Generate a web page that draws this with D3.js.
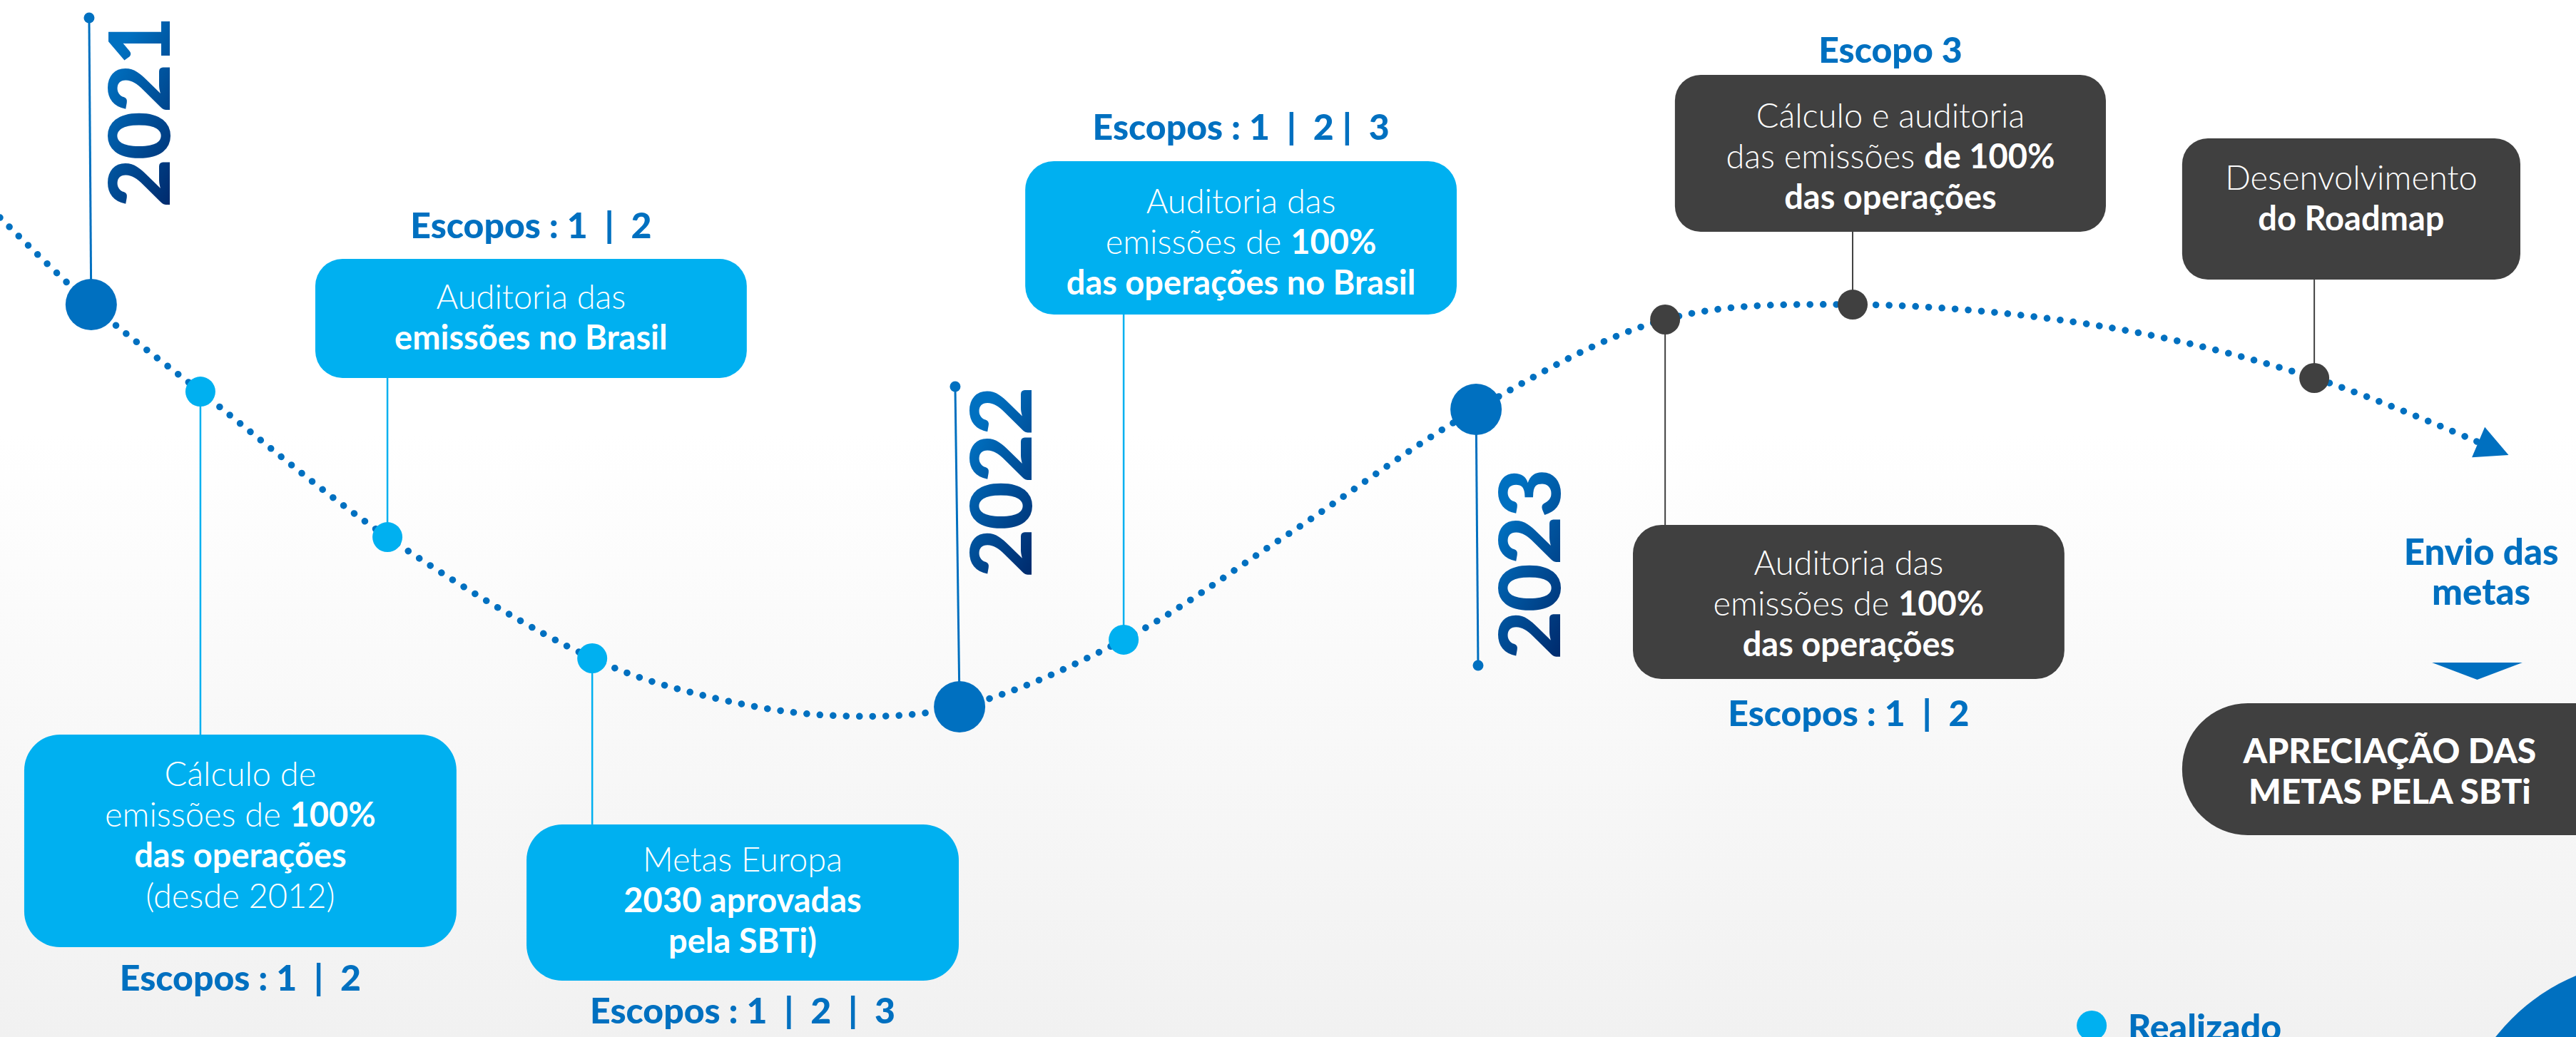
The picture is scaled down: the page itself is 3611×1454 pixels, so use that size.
<!DOCTYPE html>
<html>
<head>
<meta charset="utf-8">
<script src="https://cdn.jsdelivr.net/npm/d3@7"></script>
<style>
  html, body { margin: 0; padding: 0; overflow: hidden; background: #fff; }
  svg { display: block; }
  text { font-family: Lato, "Open Sans", sans-serif; white-space: pre; }
</style>
</head>
<body>
<div id="chart"></div>
<script>
const W = 3611, H = 1454;

// dotted trajectory, x 0-100 left to right, y 0-100 bottom to top
const curveX = [0, 3.54, 7.78, 15.04, 22.99, 27.19, 32.15, 37.25, 43.62, 49.88, 57.30, 64.64, 71.92, 81.69, 89.84, 96.21];
const curveY = [79.02, 70.63, 62.24, 48.21, 36.52, 33.01, 31.02, 31.84, 38.31, 48.28, 60.52, 69.19, 70.63, 68.50, 63.55, 57.36];

// year milestones
const years = ["2021", "2022", "2023"];
const yearX = [3.54, 37.25, 57.30];
const yearY = [70.63, 31.84, 60.52];
const yearStemX = [3.46, 37.08, 57.38];
const yearStemY = [98.28, 62.72, 35.83];

// events on the path
const eventIds = ["A", "B", "C", "D", "E", "F", "G"];
const eventStatus = ["done", "done", "done", "done", "planned", "planned", "planned"];
const eventX = [7.78, 22.99, 15.04, 43.62, 71.92, 89.84, 64.64];
const eventY = [62.24, 36.52, 48.21, 38.31, 70.63, 63.55, 69.19];
const eventText = [
  [[["l", "Cálculo de"]], [["l", "emissões de "], ["b", "100%"]], [["b", "das operações"]], [["l", "(desde 2012)"]]],
  [[["l", "Metas Europa"]], [["b", "2030 aprovadas"]], [["b", "pela SBTi)"]]],
  [[["l", "Auditoria das"]], [["b", "emissões no Brasil"]]],
  [[["l", "Auditoria das"]], [["l", "emissões de "], ["b", "100%"]], [["b", "das operações no Brasil"]]],
  [[["l", "Cálculo e auditoria"]], [["l", "das emissões "], ["b", "de 100%"]], [["b", "das operações"]]],
  [[["l", "Desenvolvimento"]], [["b", "do Roadmap"]]],
  [[["l", "Auditoria das"]], [["l", "emissões de "], ["b", "100%"]], [["b", "das operações"]]]
];
const eventScopes = ["Escopos : 1  |  2", "Escopos : 1  |  2  |  3", "Escopos : 1  |  2",
  "Escopos : 1  |  2 |  3", "Escopo 3", "", "Escopos : 1  |  2"];

const finalStep = ["APRECIAÇÃO DAS", "METAS PELA SBTi"];
const sendText = ["Envio das", "metas"];
const legendLabel = "Realizado";

// layout (same 0-100 units)
const boxLayout = {
  A: {x0: 0.94, x1: 17.72, top: 29.16, bottom: 8.67, scopeY: 4.47, rx: 50, dy: 72},
  B: {x0: 20.44, x1: 37.22, top: 20.50, bottom: 5.43, scopeY: 1.30, rx: 50, dy: 66},
  C: {x0: 12.24, x1: 28.99, top: 75.03, bottom: 63.55, scopeY: 77.03, rx: 38, dy: 70},
  D: {x0: 39.80, x1: 56.55, top: 84.46, bottom: 69.67, scopeY: 86.52, rx: 40, dy: 73},
  E: {x0: 65.02, x1: 81.75, top: 92.78, bottom: 77.65, scopeY: 93.95, rx: 36, dy: 74},
  F: {x0: 84.71, x1: 97.84, top: 86.66, bottom: 73.04, scopeY: null, rx: 36, dy: 72},
  G: {x0: 63.39, x1: 80.14, top: 49.38, bottom: 34.53, scopeY: 29.99, rx: 40, dy: 70}
};
const yearLabelPos = [[6.59, 89.13], [40.04, 53.44], [60.56, 45.53]];
const finalBox = {x0: 84.71, x1: 102.47, top: 32.19, bottom: 19.46, textX: 92.77};
const sendPos = {x: 96.32, y: [45.53, 41.68]};
const downArrow = {x0: 94.41, x1: 97.92, top: 36.11, tip: 34.46};
const legendPos = {x: 81.20, y: 1.10, tx: 82.61, ty: -0.28};
const cornerCircle = {x: 103.02, y: -11.97, r: 7.81};

const BLUE = "#0070c0", LIGHT = "#00b0f0", DARK = "#404040", NAVY = "#002060";

const x = d3.scaleLinear().domain([0, 100]).range([0, W]);
const y = d3.scaleLinear().domain([0, 100]).range([H, 0]);

const svg = d3.select("#chart").append("svg")
  .attr("width", W).attr("height", H);

const defs = svg.append("defs");
const bg = defs.append("linearGradient").attr("id", "bg")
  .attr("x1", 0).attr("y1", 0).attr("x2", 0).attr("y2", 1);
bg.append("stop").attr("offset", "0.42").attr("stop-color", "#ffffff");
bg.append("stop").attr("offset", "1").attr("stop-color", "#f1f1f1");

const yg = defs.append("linearGradient").attr("id", "yearGrad")
  .attr("x1", 0).attr("y1", 1).attr("x2", 1).attr("y2", 0);
yg.append("stop").attr("offset", "0").attr("stop-color", NAVY);
yg.append("stop").attr("offset", "0.75").attr("stop-color", BLUE);

svg.append("rect").attr("width", W).attr("height", H).attr("fill", "url(#bg)");

// corner decoration
svg.append("circle")
  .attr("cx", x(cornerCircle.x)).attr("cy", y(cornerCircle.y))
  .attr("r", x(cornerCircle.r))
  .attr("fill", BLUE);

// dotted path
const pts = curveX.map((d, i) => [x(d), y(curveY[i])]);
const path = svg.append("path")
  .attr("d", d3.line().curve(d3.curveCatmullRom.alpha(0.5))(pts))
  .attr("fill", "none")
  .attr("stroke", BLUE)
  .attr("stroke-width", 9.5)
  .attr("stroke-linecap", "round")
  .attr("stroke-dasharray", "0.1 18.4");

// arrow head at the path end
const node = path.node();
const L = node.getTotalLength();
const pEnd = node.getPointAtLength(L);
const pPrev = node.getPointAtLength(L - 30);
const ang = Math.atan2(pEnd.y - pPrev.y, pEnd.x - pPrev.x) * 180 / Math.PI;
svg.append("path")
  .attr("d", "M0,-23 L46,0 L0,23 Z")
  .attr("transform", `translate(${pEnd.x},${pEnd.y}) rotate(${ang})`)
  .attr("fill", BLUE);

// connectors from events to boxes
eventIds.forEach((id, i) => {
  const b = boxLayout[id];
  const above = b.bottom > eventY[i];
  svg.append("line")
    .attr("x1", x(eventX[i])).attr("x2", x(eventX[i]))
    .attr("y1", y(eventY[i]))
    .attr("y2", y(above ? b.bottom : b.top))
    .attr("stroke", eventStatus[i] === "done" ? LIGHT : DARK)
    .attr("stroke-width", eventStatus[i] === "done" ? 2.5 : 2);
});

// year stems and labels
years.forEach((yr, i) => {
  svg.append("line")
    .attr("x1", x(yearStemX[i])).attr("y1", y(yearStemY[i]))
    .attr("x2", x(yearX[i])).attr("y2", y(yearY[i]))
    .attr("stroke", BLUE).attr("stroke-width", 3);
  svg.append("circle")
    .attr("cx", x(yearStemX[i])).attr("cy", y(yearStemY[i]))
    .attr("r", 7.5).attr("fill", BLUE);
  svg.append("circle")
    .attr("cx", x(yearX[i])).attr("cy", y(yearY[i]))
    .attr("r", 36).attr("fill", BLUE);
  const lp = yearLabelPos[i];
  svg.append("text")
    .attr("transform", `translate(${x(lp[0])},${y(lp[1])}) rotate(-90)`)
    .attr("text-anchor", "middle")
    .attr("font-size", 118)
    .attr("font-weight", 900)
    .attr("letter-spacing", -2)
    .attr("fill", "url(#yearGrad)")
    .text(yr);
});

// boxes with text
eventIds.forEach((id, i) => {
  const b = boxLayout[id];
  const fill = eventStatus[i] === "done" ? LIGHT : DARK;
  svg.append("rect")
    .attr("x", x(b.x0)).attr("y", y(b.top))
    .attr("width", x(b.x1) - x(b.x0))
    .attr("height", y(b.bottom) - y(b.top))
    .attr("rx", b.rx).attr("ry", b.rx)
    .attr("fill", fill);

  const cx = (x(b.x0) + x(b.x1)) / 2;
  eventText[i].forEach((line, j) => {
    const t = svg.append("text")
      .attr("x", cx)
      .attr("y", y(b.top) + b.dy + j * 57)
      .attr("text-anchor", "middle")
      .attr("font-size", 47)
      .attr("fill", "#ffffff");
    line.forEach(seg => {
      t.append("tspan")
        .attr("font-weight", seg[0] === "b" ? 700 : 300)
        .text(seg[1]);
    });
  });

  if (eventScopes[i]) {
    svg.append("text")
      .attr("x", cx)
      .attr("y", y(b.scopeY))
      .attr("text-anchor", "middle")
      .attr("font-size", 50)
      .attr("font-weight", 900)
      .attr("fill", BLUE)
      .text(eventScopes[i]);
  }
});

// event markers
eventIds.forEach((id, i) => {
  svg.append("circle")
    .attr("cx", x(eventX[i])).attr("cy", y(eventY[i]))
    .attr("r", 21)
    .attr("fill", eventStatus[i] === "done" ? LIGHT : DARK);
});

// send step
sendText.forEach((s, j) => {
  svg.append("text")
    .attr("x", x(sendPos.x)).attr("y", y(sendPos.y[j]))
    .attr("text-anchor", "middle")
    .attr("font-size", 51)
    .attr("font-weight", 900)
    .attr("fill", BLUE)
    .text(s);
});
svg.append("path")
  .attr("d", d3.line()([
    [x(downArrow.x0), y(downArrow.top)],
    [x(downArrow.x1), y(downArrow.top)],
    [(x(downArrow.x0) + x(downArrow.x1)) / 2, y(downArrow.tip)]
  ]) + "Z")
  .attr("fill", BLUE);

// final step box
svg.append("rect")
  .attr("x", x(finalBox.x0)).attr("y", y(finalBox.top))
  .attr("width", x(finalBox.x1) - x(finalBox.x0))
  .attr("height", y(finalBox.bottom) - y(finalBox.top))
  .attr("rx", 92).attr("ry", 92)
  .attr("fill", DARK);
finalStep.forEach((s, j) => {
  svg.append("text")
    .attr("x", x(finalBox.textX))
    .attr("y", y(finalBox.top) + 84 + j * 57)
    .attr("text-anchor", "middle")
    .attr("font-size", 48)
    .attr("font-weight", 900)
    .attr("fill", "#ffffff")
    .text(s);
});

// legend
svg.append("circle")
  .attr("cx", x(legendPos.x)).attr("cy", y(legendPos.y))
  .attr("r", 21).attr("fill", LIGHT);
svg.append("text")
  .attr("x", x(legendPos.tx)).attr("y", y(legendPos.ty))
  .attr("font-size", 50)
  .attr("font-weight", 900)
  .attr("fill", BLUE)
  .text(legendLabel);
</script>
</body>
</html>
